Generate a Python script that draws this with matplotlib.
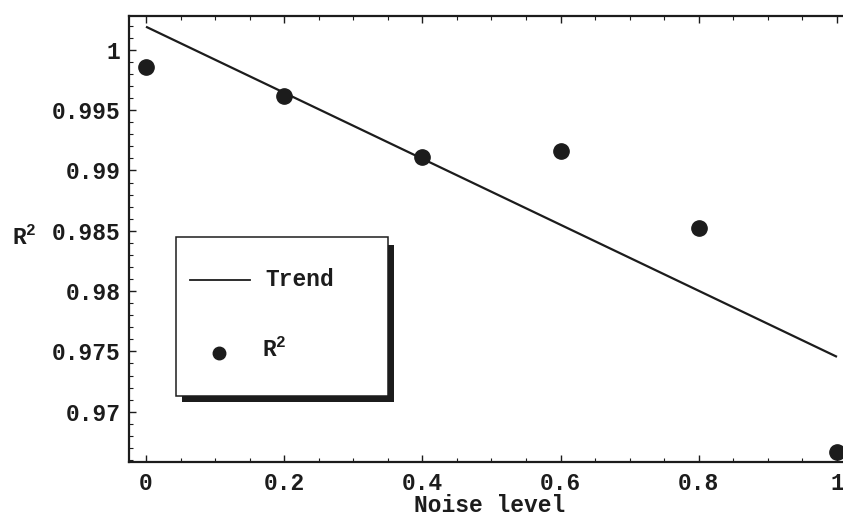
import numpy as np
import matplotlib
matplotlib.use("Agg")
import matplotlib.pyplot as plt
from matplotlib.patches import Rectangle
from matplotlib.lines import Line2D

# ---- data ----
noise = [0.0, 0.2, 0.4, 0.6, 0.8, 1.0]
r2 = [0.99856, 0.99618, 0.99109, 0.99164, 0.98526, 0.96668]
xticks = [0, 0.2, 0.4, 0.6, 0.8, 1.0]
xticklabels = ["0", "0.2", "0.4", "0.6", "0.8", "1"]
yticks = [0.97, 0.975, 0.98, 0.985, 0.99, 0.995, 1.0]
yticklabels = ["0.97", "0.975", "0.98", "0.985", "0.99", "0.995", "1"]
series_labels = ["Trend", "R$^2$"]

# least-squares trend line of the data
coef = np.polyfit(noise, r2, 1)
trend_x = [0.0, 1.0]
trend_y = list(np.polyval(coef, trend_x))

INK = "#1c1c1c"
FONT = "Liberation Mono"
FS = 16.5
plt.rcParams["font.family"] = [FONT, "DejaVu Sans"]
plt.rcParams["font.weight"] = "bold"
plt.rcParams["axes.labelweight"] = "bold"
plt.rcParams["mathtext.fontset"] = "custom"
plt.rcParams["mathtext.rm"] = FONT + ":bold"
plt.rcParams["mathtext.it"] = FONT + ":bold"
plt.rcParams["mathtext.bf"] = FONT + ":bold"
plt.rcParams["mathtext.default"] = "rm"

W, H = 843, 516
fig = plt.figure(figsize=(W / 100, H / 100), dpi=100)
L, R, T, B = 129, 843, 16, 462
ax = fig.add_axes([L / W, 1 - B / H, (R - L) / W, (B - T) / H])

ax.plot(trend_x, trend_y, color=INK, lw=1.6, solid_capstyle="butt")
ax.plot(noise, r2, "o", color=INK, ms=11, mec=INK, clip_on=False)

ax.set_xlim(-0.0246, 1.0087)
ax.set_ylim(0.96583, 1.00281)

ax.set_xticks(xticks)
ax.set_xticklabels(xticklabels)
ax.set_yticks(yticks)
ax.set_yticklabels(yticklabels)
ax.set_xticks(np.arange(0, 1.0001, 0.05), minor=True)
ax.set_yticks(np.arange(0.966, 1.0025, 0.001), minor=True)

ax.tick_params(which="both", direction="in", top=True, right=False,
               color=INK, labelcolor=INK, labelsize=FS)
ax.tick_params(which="major", length=5, width=1.0)
ax.tick_params(which="minor", length=3, width=0.8)
ax.tick_params(axis="y", which="major", pad=6)
ax.tick_params(axis="x", which="major", pad=7)
for s in ["left", "bottom", "top"]:
    ax.spines[s].set_linewidth(1.6)
    ax.spines[s].set_color(INK)
ax.spines["right"].set_visible(False)

ax.set_xlabel("Noise level", fontsize=FS, color=INK, va="center", fontweight="bold")
ax.xaxis.set_label_coords((490 - L) / (R - L), (B - 505) / (B - T))
ax.set_ylabel("R$^2$", fontsize=FS, color=INK, rotation=0, ha="center",
              va="center", fontweight="bold")
ax.yaxis.set_label_coords((24 - L) / (R - L), (B - 238) / (B - T))

# ---- legend box with offset shadow ----
def fx(x):
    return x / W

def fy(y):
    return 1 - y / H

tf = fig.transFigure
shadow = Rectangle((fx(182), fy(402)), fx(394) - fx(182), fy(245) - fy(402),
                   transform=tf, facecolor=INK, edgecolor="none", zorder=5)
box = Rectangle((fx(176), fy(396)), fx(388) - fx(176), fy(237) - fy(396),
                transform=tf, facecolor="white", edgecolor=INK, lw=1.1, zorder=6)
fig.add_artist(shadow)
fig.add_artist(box)
fig.add_artist(Line2D([fx(190), fx(250)], [fy(280), fy(280)], transform=tf,
                      color=INK, lw=1.3, zorder=7))
fig.text(fx(265), fy(280), series_labels[0], fontsize=FS, color=INK,
         ha="left", va="center", zorder=7)
fig.add_artist(Line2D([fx(219)], [fy(353)], transform=tf, marker="o",
                      ms=9, color=INK, lw=0, zorder=7))
fig.text(fx(262), fy(350), series_labels[1], fontsize=FS, color=INK,
         ha="left", va="center", zorder=7)

fig.savefig("out.png", dpi=100)
